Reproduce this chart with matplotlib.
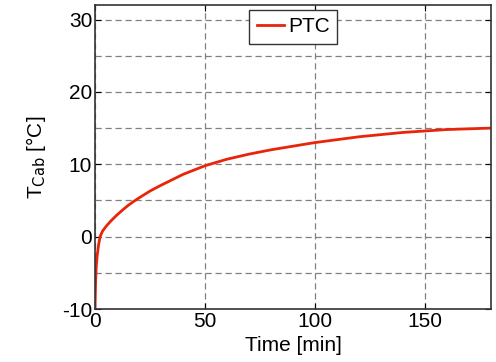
import matplotlib
matplotlib.use('Agg')
import matplotlib.pyplot as plt
from matplotlib.ticker import MultipleLocator

# cabin temperature with PTC heater
time_min = [0, 0.3, 0.6, 1, 1.6, 2.3, 3.5, 5, 7, 10, 13, 15, 17.5, 20, 25, 30,
            40, 50, 60, 70, 80, 90, 100, 110, 120, 130, 140, 150, 160, 170, 180]
t_cab = [-10, -6, -4, -2.6, -1.2, 0, 0.8, 1.4, 2.1, 3.0, 3.8, 4.3, 4.85, 5.35,
         6.3, 7.1, 8.6, 9.8, 10.7, 11.4, 12.0, 12.5, 13.0, 13.4, 13.8, 14.1,
         14.4, 14.6, 14.8, 14.9, 15.0]

plt.rcParams['font.family'] = ['Liberation Sans', 'DejaVu Sans']
plt.rcParams['axes.unicode_minus'] = False

fig = plt.figure(figsize=(4.96, 3.62), dpi=100)
ax = fig.add_axes([0.1915, 0.1464, 0.7985, 0.8396])

ax.plot(time_min, t_cab, color='#e8250a', linewidth=2, label='PTC')

ax.set_xlim(0, 180)
ax.set_ylim(-10, 32)
ax.xaxis.set_major_locator(MultipleLocator(50))
ax.yaxis.set_major_locator(MultipleLocator(10))
ax.yaxis.set_minor_locator(MultipleLocator(5))
ax.tick_params(which='both', direction='in', top=True, right=True,
               labelsize=15, length=4, pad=2)
ax.tick_params(which='minor', length=0)
ax.grid(True, which='both', linestyle=(0, (5, 3)), color='#808080', linewidth=0.9)

ax.set_xlabel('Time [min]', fontsize=15, labelpad=4)
ax.set_ylabel(r'T$_{\mathrm{Cab}}$ [°C]', fontsize=15, labelpad=10)

for sp in ax.spines.values():
    sp.set_linewidth(1.2)
    sp.set_color('#333333')

leg = ax.legend(loc='upper center', bbox_to_anchor=(0.5, 0.984), fontsize=15,
                fancybox=False, framealpha=1, edgecolor='#333333',
                handlelength=1.3, handletextpad=0.2, borderpad=0.35,
                borderaxespad=0)
leg.get_frame().set_linewidth(1.0)

fig.savefig('out.png', dpi=100)
